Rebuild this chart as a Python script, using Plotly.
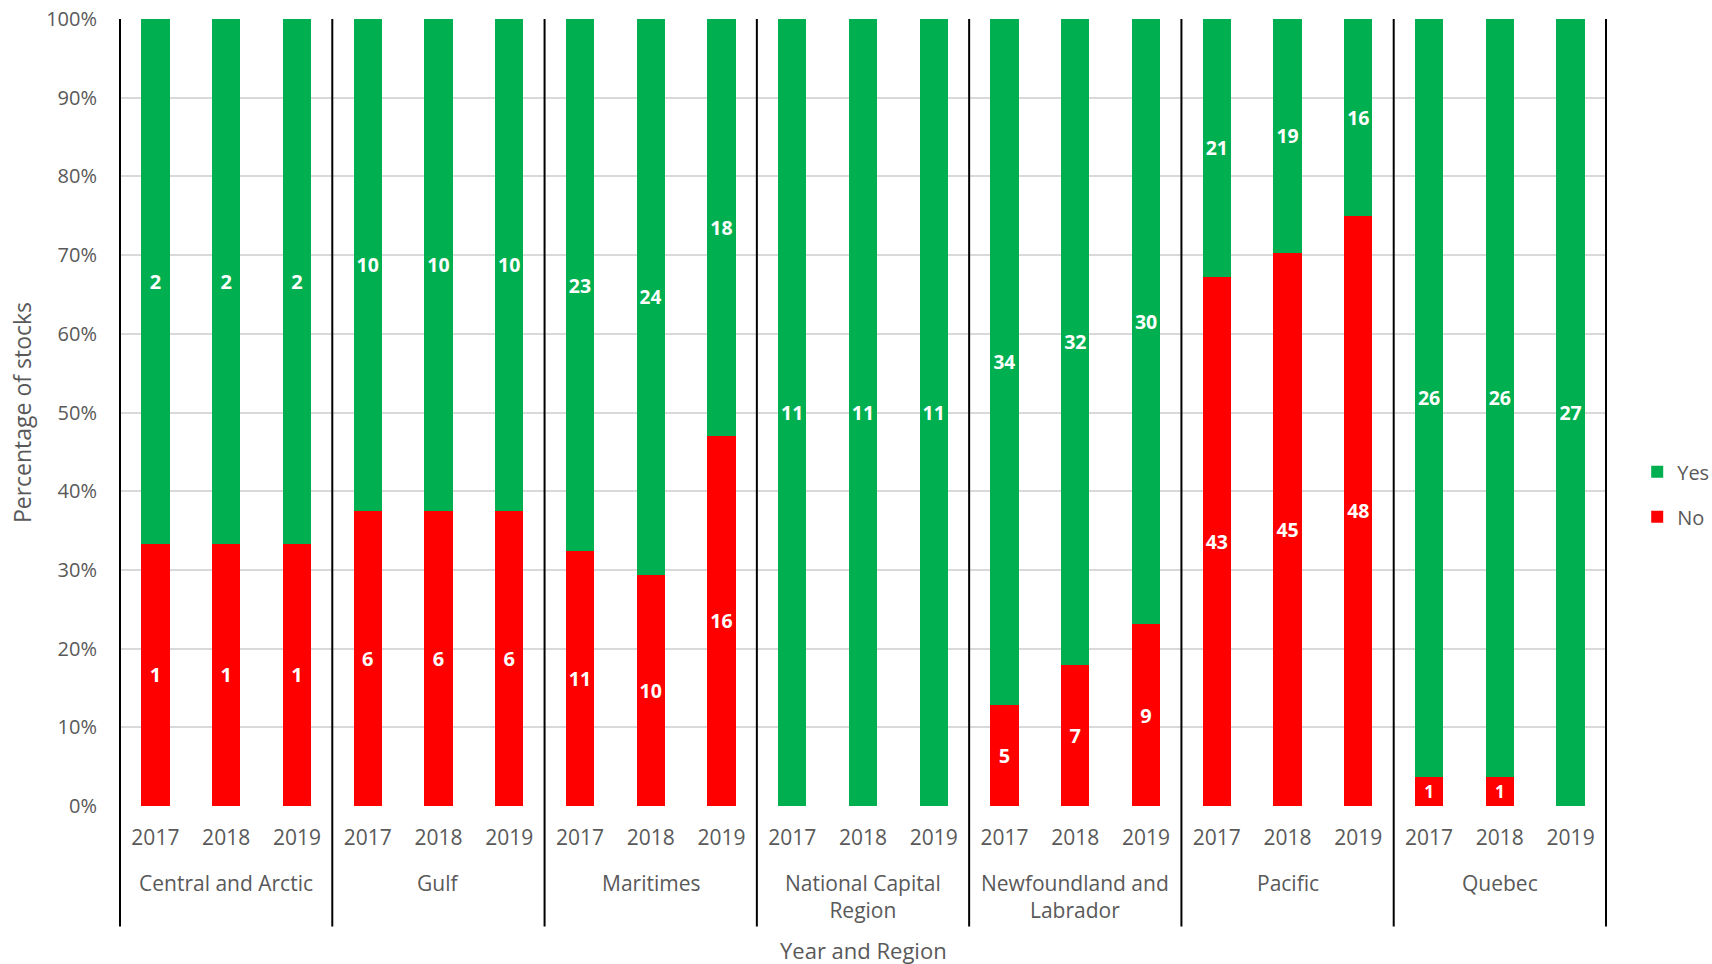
import plotly.graph_objects as go

regions = ["Central and Arctic", "Gulf", "Maritimes", "National Capital<br>Region",
           "Newfoundland and<br>Labrador", "Pacific", "Quebec"]
years = ["2017", "2018", "2019"]

no_counts = [1, 1, 1, 6, 6, 6, 11, 10, 16, 0, 0, 0, 5, 7, 9, 43, 45, 48, 1, 1, 0]
yes_counts = [2, 2, 2, 10, 10, 10, 23, 24, 18, 11, 11, 11, 34, 32, 30, 21, 19, 16, 26, 26, 27]
y_ticks = list(range(0, 101, 10))

per = len(years)
ngroups = len(regions)
n = per * ngroups
xpos = list(range(n))
year_labels = [y for _ in regions for y in years]

GREEN = "#00B050"
RED = "#FF0000"
GREY = "#595959"
FONT = "Open Sans"

def labels(vals):
    return [str(v) if v else "" for v in vals]

fig = go.Figure()
for name, vals, col, rank in [("No", no_counts, RED, 2), ("Yes", yes_counts, GREEN, 1)]:
    fig.add_trace(go.Bar(x=xpos, y=vals, name=name, marker_color=col, legendgroup=name,
                         legendrank=rank,
                         marker_line_width=0, text=labels(vals), textposition="inside",
                         insidetextanchor="middle", textangle=0,
                         textfont=dict(color="white", size=20, family=FONT, weight="bold")))

# group separators spanning plot area and label area
for k in range(ngroups + 1):
    xp = (k * per) / n
    fig.add_shape(type="line", xref="paper", yref="paper", x0=xp, x1=xp, y0=-0.153, y1=1,
                  line=dict(color="black", width=2), layer="above")

# region labels
for k, r in enumerate(regions):
    fig.add_annotation(x=k * per + (per - 1) / 2, xref="x", y=-0.078, yref="paper",
                       yanchor="top", xanchor="center", text=r, showarrow=False,
                       font=dict(size=21, color=GREY, family=FONT))

fig.add_annotation(x=0.5, xref="paper", y=-0.183, yref="paper", yanchor="middle",
                   text="Year and Region", showarrow=False,
                   font=dict(size=22, color=GREY, family=FONT))

fig.update_layout(
    barmode="stack", barnorm="percent", bargap=0.6,
    width=1712, height=964,
    margin=dict(l=120, r=106, t=19, b=158, autoexpand=False),
    plot_bgcolor="white", paper_bgcolor="white",
    font=dict(family=FONT, color=GREY, size=20),
    showlegend=True,
    legend=dict(x=1.021, y=0.396, xanchor="left", yanchor="middle",
                traceorder="grouped", tracegroupgap=16,
                font=dict(size=20, color=GREY), itemwidth=30),
    xaxis=dict(range=[-0.5, n - 0.5], tickvals=xpos, ticktext=year_labels,
               tickfont=dict(size=21, color=GREY), showgrid=False, ticks="",
               zeroline=False, showline=False, automargin=False, ticklabelstandoff=17),
    yaxis=dict(range=[0, 100], tickvals=y_ticks, ticktext=[f"{v}%" for v in y_ticks],
               gridcolor="#D9D9D9", gridwidth=2, zeroline=False, showline=False,
               tickfont=dict(size=20, color=GREY), ticklabelstandoff=22, automargin=False,
               title=dict(text="Percentage of stocks", font=dict(size=23, color=GREY), standoff=8)),
)

fig.write_html("out.html")
